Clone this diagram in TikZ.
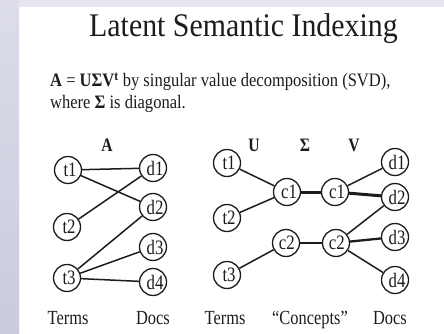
\documentclass[tikz,border=0pt]{standalone}
\usepackage{fontspec}
\usepackage{graphicx}
\setmainfont{Liberation Serif}
\newcommand\cz[1]{\scalebox{0.82}[1]{#1}}
\definecolor{ink}{HTML}{1C1C1C}
\definecolor{barA}{HTML}{DCDDE9}
\definecolor{barB}{HTML}{C9CBDD}
\definecolor{topbar}{HTML}{E6E6EE}
\begin{document}
\begin{tikzpicture}[x=1pt,y=-1pt,
  vtx/.style={circle,draw=ink,line width=1.3pt,minimum size=27pt,inner sep=0pt,
    font=\fontsize{20.5}{20.5}\selectfont,text=ink},
  edge/.style={draw=ink,line width=1.5pt},
  heavy/.style={draw=ink,line width=3pt},
  medium/.style={draw=ink,line width=2.3pt},
  caplabel/.style={font=\fontsize{20}{20}\selectfont,text=ink,anchor=base},
  hdr/.style={font=\bfseries\fontsize{19}{19}\selectfont,text=ink,anchor=base}]
\useasboundingbox (0,0) rectangle (444,334);
\fill[topbar] (0,0) rectangle (444,7);
\shade[top color=barA,bottom color=barB] (0,0) rectangle (19,334);
% title and text
\node[anchor=base west,inner sep=0pt,text=ink,font=\fontsize{33}{33}\selectfont] (title) at (89,37)
  {\scalebox{0.905}[1]{Latent Semantic Indexing}};
\node[anchor=base west,inner sep=0pt,text=ink,font=\fontsize{19}{19}\selectfont] (line1) at (50,86.5)
  {\scalebox{0.87}[1]{\textbf{A} = \textbf{UΣV\textsuperscript{t}} by singular value decomposition (SVD),}};
\node[anchor=base west,inner sep=0pt,text=ink,font=\fontsize{19}{19}\selectfont] (line2) at (50,109)
  {\scalebox{0.87}[1]{where \textbf{Σ} is diagonal.}};
% left graph
\node[hdr] (lA) at (107,151) {\cz{A}};
\node[vtx] (t1) at (68,170) {\cz{\hspace{5pt}t1}};
\node[vtx] (t2) at (67,227) {\cz{\hspace{5pt}t2}};
\node[vtx] (t3) at (67,278) {\cz{\hspace{5pt}t3}};
\node[vtx] (d1) at (153,168) {\cz{\hspace{5pt}d1}};
\node[vtx] (d2) at (153,207) {\cz{\hspace{5pt}d2}};
\node[vtx] (d3) at (153,247) {\cz{\hspace{5pt}d3}};
\node[vtx] (d4) at (153,282) {\cz{\hspace{5pt}d4}};
\draw[edge] (t1) -- (d1);
\draw[edge] (t1) -- (d2);
\draw[edge] (t2) -- (d1);
\draw[edge] (t3) -- (d2);
\draw[edge] (t3) -- (d3);
\draw[edge] (t3) -- (d4);
\node[caplabel] (lterms) at (68,324) {\cz{Terms}};
\node[caplabel] (ldocs) at (153,324) {\cz{Docs}};
% right graph
\node[hdr] (lU) at (254,151) {\cz{U}};
\node[hdr] (lS) at (305,151) {\cz{Σ}};
\node[hdr] (lV) at (354,151) {\cz{V}};
\node[vtx] (rt1) at (227,163) {\cz{\hspace{5pt}t1}};
\node[vtx] (rt2) at (227,218) {\cz{\hspace{5pt}t2}};
\node[vtx] (rt3) at (227,275) {\cz{\hspace{5pt}t3}};
\node[vtx] (c1a) at (287,192) {\cz{\hspace{5pt}c1}};
\node[vtx] (c1b) at (335,192) {\cz{\hspace{5pt}c1}};
\node[vtx] (c2a) at (286,243) {\cz{\hspace{2pt}c2}};
\node[vtx] (c2b) at (336,243) {\cz{\hspace{2pt}c2}};
\node[vtx] (rd1) at (395,162) {\cz{\hspace{5pt}d1}};
\node[vtx] (rd2) at (395,197) {\cz{\hspace{5pt}d2}};
\node[vtx] (rd3) at (395,237) {\cz{\hspace{5pt}d3}};
\node[vtx] (rd4) at (395,280) {\cz{\hspace{5pt}d4}};
\draw[edge] (rt1) -- (c1a);
\draw[edge] (rt2) -- (c1a);
\draw[heavy] (c1a) -- (c1b);
\draw[edge] (c1b) -- (rd1);
\draw[heavy] (c1b) -- (rd2);
\draw[edge] (rt3) -- (c2a);
\draw[medium] (c2a) -- (c2b);
\draw[edge] (c2b) -- (rd2);
\draw[medium] (c2b) -- (rd3);
\draw[edge] (c2b) -- (rd4);
\node[caplabel] (rterms) at (225,324) {\cz{Terms}};
\node[caplabel] (rconc) at (310,324) {\cz{“Concepts”}};
\node[caplabel] (rdocs) at (390,324) {\cz{Docs}};
\end{tikzpicture}
\end{document}
